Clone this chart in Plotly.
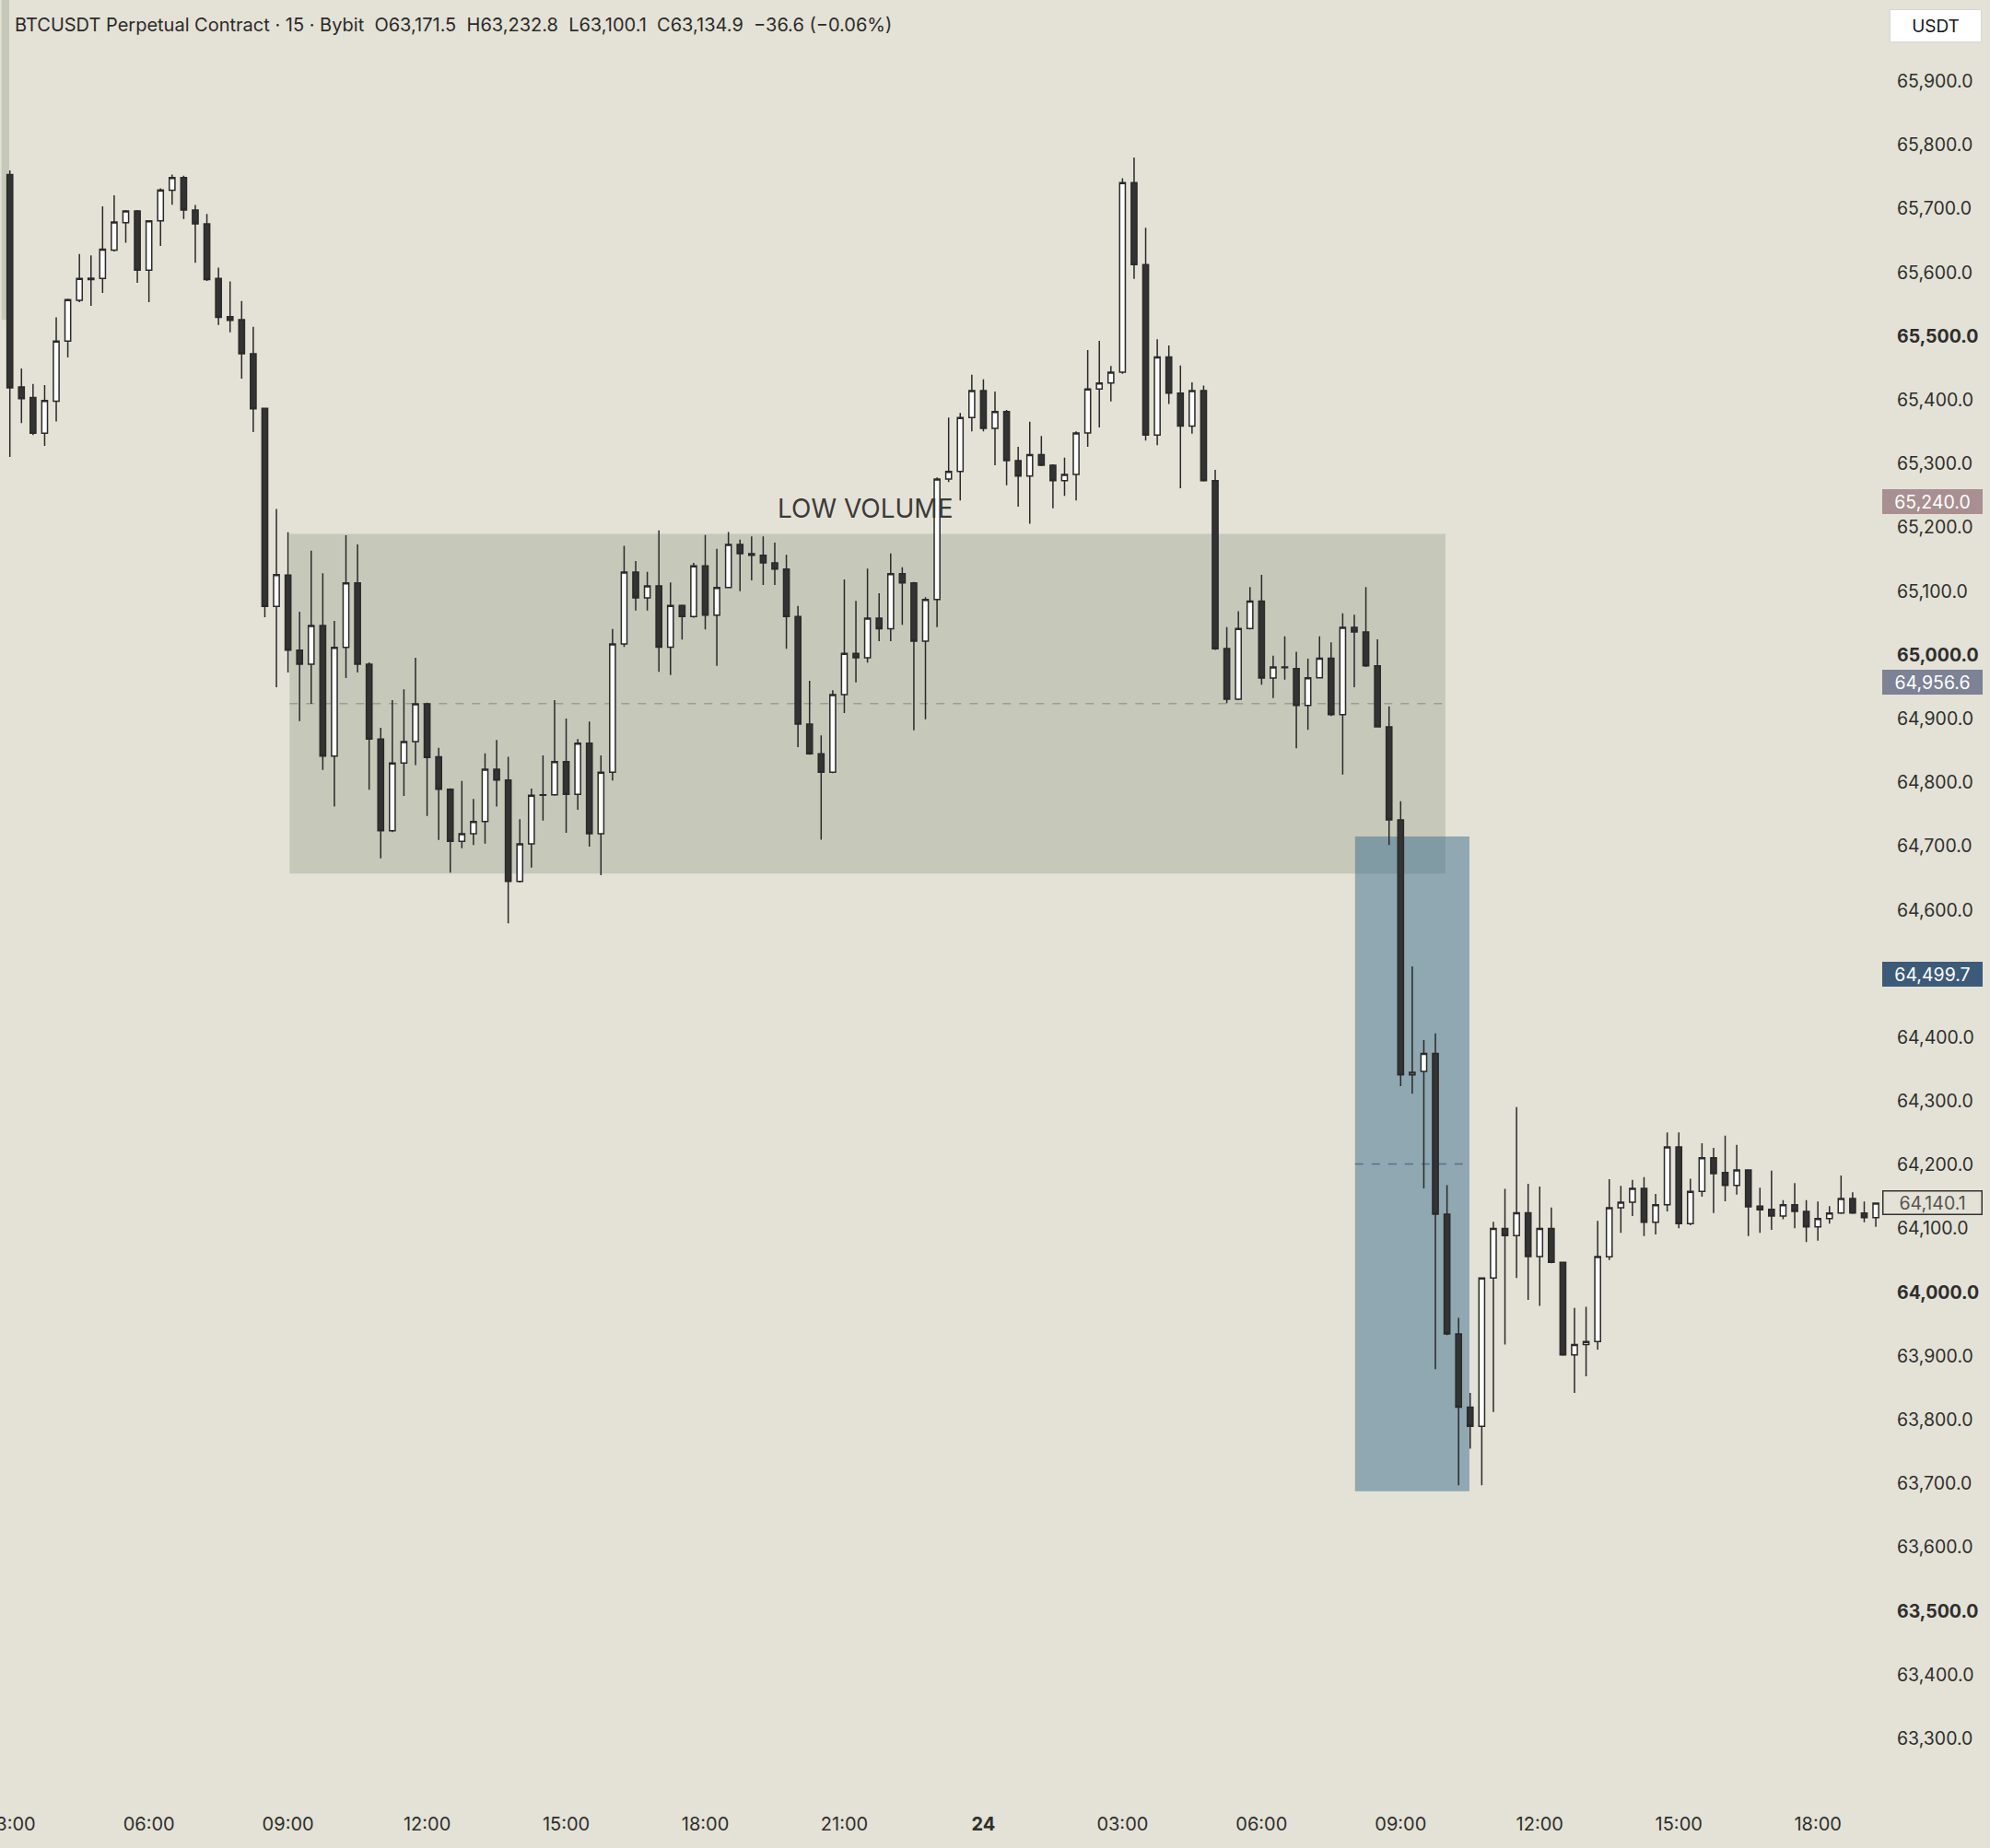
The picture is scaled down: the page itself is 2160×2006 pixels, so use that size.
import pandas as pd
import plotly.graph_objects as go

# 15 min candles, BTCUSDT perpetual (Bybit), 23rd 03:00 -> 24th 17:15
start = "2024-07-23 03:00"

opens = [
    65753.6, 65420.4, 65403.8, 65347.8, 65398.1, 65492.4, 65556.4, 65589.0, 65590.7, 65635.2,
    65678.1, 65696.4, 65603.8, 65681.0, 65729.0, 65749.0, 65698.0, 65676.4, 65590.7, 65530.7,
    65526.0, 65472.4, 65386.7, 65076.3, 65125.1, 65007.6, 64985.4, 65046.1, 64841.4, 65011.9,
    65113.1, 64985.4, 64867.9, 64724.3, 64830.3, 64864.0, 64923.3, 64840.0, 64789.3, 64707.4,
    64719.5, 64738.8, 64820.6, 64803.8, 64644.8, 64703.6, 64779.7, 64780.5, 64832.7, 64781.2,
    64861.6, 64719.5, 64815.8, 65017.2, 65130.0, 65089.5, 65108.3, 65012.0, 65077.5, 65060.1,
    65139.6, 65062.5, 65105.9, 65173.3, 65158.9, 65156.5, 65144.4, 65134.8, 65060.1, 64891.5,
    64844.8, 64815.9, 64937.8, 65002.3, 64995.6, 65057.7, 65040.9, 65127.6, 65113.1, 65021.6,
    65087.1, 65275.9, 65288.0, 65372.3, 65414.6, 65355.4, 65381.9, 65304.8, 65280.7, 65314.4,
    65297.6, 65273.5, 65283.2, 65348.2, 65417.1, 65426.7, 65443.6, 65740.8, 65612.2, 65344.8,
    65467.6, 65410.8, 65359.2, 65414.6, 65273.5, 65009.9, 64930.5, 65041.3, 65084.6, 64963.7,
    64980.0, 64978.6, 64920.9, 64964.2, 64995.0, 64906.4, 65043.2, 65036.0, 64983.0, 64887.1,
    64741.1, 64341.1, 64346.7, 64374.7, 64122.5, 63934.8, 63819.9, 63789.8, 64022.4, 64100.1,
    64088.9, 64124.6, 64056.0, 64100.1, 64046.9, 63901.9, 63918.0, 63922.9, 64055.6, 64132.7,
    64141.3, 64163.0, 64110.0, 64137.5, 64228.1, 64107.6, 64158.2, 64211.2, 64188.1, 64167.8,
    64191.9, 64135.1, 64130.3, 64119.7, 64137.5, 64126.9, 64102.8, 64115.8, 64124.5, 64147.1,
    64124.5, 64117.3,
]
highs = [
    65760.0, 65449.5, 65425.0, 65423.2, 65529.5, 65559.0, 65629.0, 65626.7, 65703.8, 65721.0,
    65698.0, 65698.0, 65682.0, 65731.8, 65753.6, 65751.8, 65706.0, 65691.8, 65607.8, 65586.0,
    65555.2, 65514.7, 65388.0, 65228.9, 65192.6, 65067.8, 65163.7, 65128.0, 65053.3, 65187.7,
    65173.3, 64988.3, 64885.7, 64929.0, 64946.0, 64995.5, 64925.0, 64854.4, 64790.5, 64802.3,
    64774.0, 64845.7, 64866.4, 64840.0, 64742.1, 64790.3, 64842.3, 64929.0, 64900.2, 64867.9,
    64895.3, 64842.3, 65040.8, 65171.0, 65147.3, 65130.5, 65195.5, 65113.6, 65079.0, 65144.4,
    65188.3, 65166.6, 65193.0, 65181.0, 65185.9, 65185.9, 65176.2, 65157.0, 65077.0, 64959.4,
    64873.7, 64944.5, 65118.4, 65084.7, 65135.3, 65096.7, 65159.4, 65137.7, 65114.5, 65090.5,
    65278.3, 65372.3, 65379.5, 65439.7, 65432.5, 65413.2, 65384.3, 65326.5, 65366.0, 65343.4,
    65299.0, 65309.6, 65350.6, 65478.2, 65492.7, 65453.2, 65748.0, 65780.3, 65670.0, 65495.1,
    65485.5, 65454.2, 65427.7, 65422.8, 65290.3, 65043.7, 65068.7, 65106.3, 65125.6, 64998.9,
    65029.2, 65005.1, 64994.1, 65029.2, 65019.6, 65065.4, 65063.0, 65106.3, 65024.4, 64919.4,
    64770.5, 64511.3, 64395.7, 64406.2, 64168.0, 63960.0, 63842.3, 64023.5, 64110.6, 64162.5,
    64290.7, 64170.2, 64166.0, 64133.0, 64048.0, 63975.4, 63977.5, 64112.0, 64177.5, 64166.9,
    64176.5, 64180.8, 64154.4, 64250.7, 64250.7, 64178.4, 64233.8, 64226.6, 64245.9, 64231.4,
    64193.0, 64164.0, 64191.0, 64144.7, 64171.2, 64144.7, 64142.3, 64135.1, 64183.3, 64156.8,
    64142.3, 64141.0,
]
lows = [
    65310.6, 65363.8, 65345.0, 65327.8, 65366.1, 65466.7, 65553.5, 65547.8, 65567.8, 65633.0,
    65646.7, 65583.8, 65553.5, 65641.5, 65706.1, 65683.8, 65615.2, 65586.7, 65517.5, 65506.0,
    65433.5, 65349.5, 65059.2, 64949.4, 64972.4, 64896.3, 64923.3, 64819.7, 64762.0, 64963.7,
    64972.4, 64788.4, 64681.0, 64722.0, 64778.7, 64827.0, 64747.4, 64709.8, 64658.3, 64696.8,
    64701.7, 64704.1, 64762.0, 64578.8, 64643.0, 64666.5, 64740.2, 64779.0, 64720.9, 64757.0,
    64699.2, 64654.5, 64802.8, 65012.4, 65069.8, 65069.8, 64973.4, 64968.6, 65024.0, 65058.5,
    65039.9, 64983.0, 65104.5, 65100.1, 65117.0, 65109.7, 65109.7, 65009.5, 64855.4, 64843.5,
    64710.0, 64814.5, 64909.0, 64957.0, 64987.9, 65021.6, 65021.6, 65047.1, 64881.9, 64899.2,
    65043.7, 65271.1, 65242.2, 65350.6, 65350.6, 65297.6, 65266.3, 65232.5, 65206.0, 65296.0,
    65230.1, 65249.4, 65242.2, 65326.5, 65356.8, 65397.8, 65441.1, 65590.0, 65336.1, 65328.9,
    65393.9, 65261.4, 65347.2, 65272.0, 65008.0, 64924.2, 64929.0, 65040.0, 64953.1, 64932.4,
    64961.3, 64853.4, 64882.3, 64963.0, 64904.0, 64812.4, 64949.3, 64981.0, 64886.0, 64701.8,
    64323.6, 64311.7, 64163.2, 63879.5, 63933.0, 63697.3, 63754.8, 63697.3, 63812.2, 63918.0,
    64022.4, 63988.0, 63978.9, 64045.5, 63900.5, 63842.3, 63868.2, 63910.3, 64050.8, 64093.2,
    64119.7, 64088.4, 64090.8, 64126.9, 64100.4, 64105.2, 64150.0, 64124.5, 64142.8, 64153.4,
    64088.4, 64093.2, 64098.0, 64114.8, 64100.4, 64078.7, 64081.1, 64107.6, 64123.0, 64123.0,
    64110.0, 64102.8,
]
closes = [
    65419.2, 65402.1, 65347.8, 65399.2, 65492.4, 65557.5, 65590.7, 65591.0, 65636.4, 65679.3,
    65696.4, 65603.8, 65681.0, 65729.5, 65749.0, 65698.0, 65676.4, 65589.0, 65529.5, 65525.0,
    65472.4, 65386.1, 65076.3, 65126.0, 65007.6, 64985.4, 65046.1, 64841.4, 65011.9, 65113.1,
    64985.4, 64867.9, 64724.3, 64830.3, 64864.0, 64923.3, 64839.0, 64789.3, 64707.4, 64719.5,
    64738.8, 64820.6, 64803.8, 64644.8, 64703.6, 64779.7, 64780.5, 64832.7, 64781.2, 64861.6,
    64719.5, 64815.8, 65017.2, 65130.0, 65089.5, 65108.3, 65012.0, 65077.5, 65060.1, 65139.6,
    65062.5, 65105.9, 65173.3, 65158.9, 65156.5, 65144.4, 65134.8, 65060.1, 64891.5, 64844.8,
    64815.9, 64937.8, 65002.3, 64995.6, 65057.7, 65040.9, 65127.6, 65113.1, 65021.6, 65087.1,
    65275.9, 65288.0, 65372.3, 65414.6, 65355.4, 65381.9, 65304.8, 65280.7, 65314.4, 65297.6,
    65273.5, 65283.2, 65348.2, 65417.1, 65426.7, 65443.6, 65740.8, 65612.2, 65344.8, 65467.6,
    65410.8, 65359.2, 65414.6, 65273.5, 65009.5, 64930.5, 65041.3, 65084.6, 64963.7, 64981.1,
    64981.0, 64920.9, 64964.2, 64995.0, 64906.4, 65043.2, 65036.0, 64983.0, 64887.1, 64741.1,
    64341.1, 64345.3, 64374.7, 64122.5, 63934.8, 63819.9, 63789.8, 64022.4, 64100.1, 64088.9,
    64124.6, 64056.0, 64100.1, 64046.9, 63901.9, 63918.0, 63922.9, 64056.0, 64132.7, 64141.3,
    64163.0, 64110.0, 64137.5, 64228.1, 64107.6, 64158.2, 64211.2, 64186.1, 64167.8, 64191.9,
    64134.1, 64129.3, 64119.7, 64137.5, 64126.9, 64102.8, 64115.8, 64124.5, 64147.1, 64124.5,
    64117.3, 64140.1,
]

times = pd.date_range(start, periods=len(closes), freq="15min")

# price axis
price_ticks = list(range(63300, 66000, 100))
bold_ticks = [63500, 64000, 65000, 65500]

# time axis labels
time_tick_idx = [0, 12, 24, 36, 48, 60, 72, 84, 96, 108, 120, 132, 144, 156]
time_tick_text = ["03:00", "06:00", "09:00", "12:00", "15:00", "18:00", "21:00", "<b>24</b>",
                  "03:00", "06:00", "09:00", "12:00", "15:00", "18:00"]

# drawings
low_vol_box = dict(x0="2024-07-23 09:02", x1="2024-07-24 09:58", y0=64657, y1=65190)
drop_box = dict(x0="2024-07-24 08:01", x1="2024-07-24 10:29", y0=63688, y1=64715)

# tags on price scale: value, background, text colour, border
price_tags = [
    ("65,240.0", 65240, "#a88f91", "#ffffff", "#a88f91"),
    ("64,956.6", 64956.6, "#7d8295", "#ffffff", "#7d8295"),
    ("64,499.7", 64499.7, "#3c5b79", "#ffffff", "#3c5b79"),
    ("64,140.1", 64140.1, "#e4e2d6", "#555555", "#333333"),
]

BG = "#e4e2d6"
FONT = "Inter"
step = pd.Timedelta(minutes=15)

fig = go.Figure(go.Candlestick(
    x=times, open=opens, high=highs, low=lows, close=closes,
    increasing=dict(fillcolor="#ffffff", line=dict(color="#2a2a2a", width=1.5)),
    decreasing=dict(fillcolor="#333333", line=dict(color="#2a2a2a", width=1.5)),
    showlegend=False,
))

fig.add_shape(type="rect", xref="x", yref="y", layer="below",
              fillcolor="#c6c8ba", line=dict(width=0), **low_vol_box)
fig.add_shape(type="line", xref="x", yref="y", layer="below",
              x0=low_vol_box["x0"], x1=low_vol_box["x1"],
              y0=(low_vol_box["y0"] + low_vol_box["y1"]) / 2,
              y1=(low_vol_box["y0"] + low_vol_box["y1"]) / 2,
              line=dict(color="#97a091", width=1.5, dash="dash"))
fig.add_shape(type="rect", xref="x", yref="y", layer="below",
              fillcolor="rgba(58,110,142,0.5)", line=dict(width=0), **drop_box)
fig.add_shape(type="line", xref="x", yref="y", layer="below",
              x0=drop_box["x0"], x1=drop_box["x1"],
              y0=(drop_box["y0"] + drop_box["y1"]) / 2,
              y1=(drop_box["y0"] + drop_box["y1"]) / 2,
              line=dict(color="#4d7590", width=1.5, dash="dash"))
# strip at far left edge
fig.add_shape(type="rect", xref="paper", yref="paper", layer="below",
              x0=0.0008, x1=0.0049, y0=0.823, y1=1.0,
              fillcolor="#c6c8ba", line=dict(width=0))

fig.add_annotation(x="2024-07-23 21:28", y=65229, xref="x", yref="y",
                   text="LOW VOLUME", showarrow=False,
                   font=dict(family=FONT, size=28, color="#3a3a3a"))

header = ("BTCUSDT Perpetual Contract · 15 · Bybit\u00a0\u00a0O63,171.5\u00a0\u00a0H63,232.8"
          "\u00a0\u00a0L63,100.1\u00a0\u00a0C63,134.9\u00a0\u00a0−36.6 (−0.06%)")
fig.add_annotation(x=0.007, y=0.9862, xref="paper", yref="paper", xanchor="left",
                   yanchor="middle", text=header, showarrow=False,
                   font=dict(family=FONT, size=20, color="#2b2b2b"))

fig.add_annotation(x=1.0279, y=0.9855, xref="paper", yref="paper", text="USDT",
                   xanchor="center", yanchor="middle",
                   showarrow=False, bgcolor="#ffffff", bordercolor="#d8d8d8",
                   borderwidth=1, width=96, height=32,
                   font=dict(family=FONT, size=19, color="#131722"))

for label, val, bg, fg, border in price_tags:
    fig.add_annotation(x=0.9995, y=val, xref="paper", yref="y", xanchor="left",
                       yanchor="middle", text=label, showarrow=False,
                       bgcolor=bg, bordercolor=border, borderwidth=1.5,
                       width=104, height=22,
                       font=dict(family=FONT, size=19.5, color=fg))

tick_text = []
for p in price_ticks:
    s = f"{p:,.1f}"
    tick_text.append(f"<b>{s}</b>" if p in bold_ticks else s)

fig.update_layout(
    width=2160, height=2006,
    margin=dict(l=0, r=116, t=0, b=44, autoexpand=False),
    paper_bgcolor=BG, plot_bgcolor=BG,
    font=dict(family=FONT, size=19, color="#2e2e2e"),
    xaxis=dict(
        rangeslider=dict(visible=False),
        range=[times[0] - 0.851 * step, times[0] + 161.63 * step],
        tickvals=[times[i] for i in time_tick_idx], ticktext=time_tick_text,
        showgrid=False, zeroline=False, showline=False, ticks="",
        tickfont=dict(family=FONT, size=20, color="#2e2e2e"),
        ticklabelstandoff=4, ticklabeloverflow="allow", automargin=False,
    ),
    yaxis=dict(
        side="right", range=[63191.8, 66027.5],
        tickvals=price_ticks, ticktext=tick_text,
        showgrid=False, zeroline=False, showline=False, ticks="",
        tickfont=dict(family=FONT, size=19.5, color="#2e2e2e"),
        ticklabelstandoff=14, automargin=False,
    ),
)

# the page body has a default 8px margin; drop it so the figure sits at 0,0
fig.write_html("out.html", config={"displayModeBar": False},
               post_script="document.body.style.margin = '0';")
